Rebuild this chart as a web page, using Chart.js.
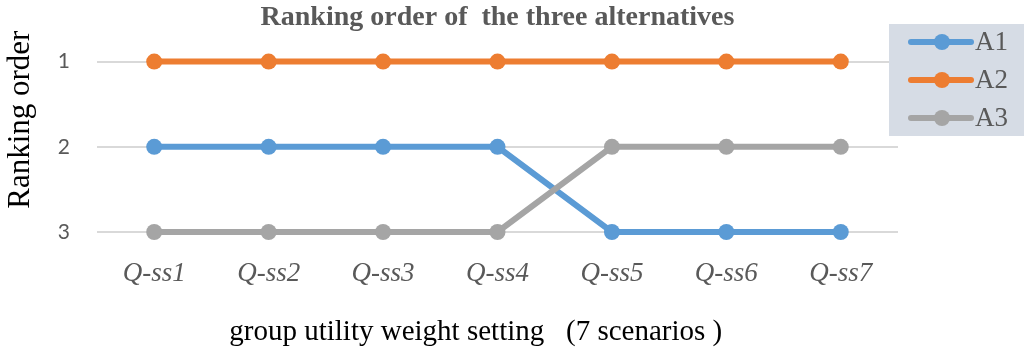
<!DOCTYPE html>
<html>
<head>
<meta charset="utf-8">
<script src="https://cdn.jsdelivr.net/npm/chart.js@4/dist/chart.umd.min.js"></script>
<style>
  html, body { margin: 0; padding: 0; background: #fff; }
  #wrap { width: 1024px; height: 354px; }
</style>
</head>
<body>
<div id="wrap"><canvas id="chart" width="1024" height="354"></canvas></div>
<script>
// data
var scenarios = ['Q-ss1', 'Q-ss2', 'Q-ss3', 'Q-ss4', 'Q-ss5', 'Q-ss6', 'Q-ss7'];
var rankA1 = [2, 2, 2, 2, 3, 3, 3];
var rankA2 = [1, 1, 1, 1, 1, 1, 1];
var rankA3 = [3, 3, 3, 3, 2, 2, 2];
var seriesNames = ['A1', 'A2', 'A3'];
var seriesColors = ['#5B9BD5', '#ED7D31', '#A5A5A5'];

var serif = '"Liberation Serif", "DejaVu Serif", serif';
var nb = '\u00a0';

function makeSet(i, values, order) {
	return {
		label: seriesNames[i],
		data: values,
		borderColor: seriesColors[i],
		backgroundColor: seriesColors[i],
		borderWidth: 6,
		pointRadius: 8,
		pointHoverRadius: 8,
		pointBorderWidth: 0,
		tension: 0,
		clip: false,
		order: order
	};
}

// legend box drawn on the right, line sample with a dot in the middle
var legendBox = {
	id: 'legendBox',
	afterDraw: function(chart) {
		var ctx = chart.ctx;
		var area = chart.chartArea;
		var x = area.right - 9, y = 24;
		ctx.save();
		ctx.fillStyle = '#D6DCE5';
		ctx.fillRect(x, y, chart.width - x, 112);
		ctx.font = '27px ' + serif;
		ctx.textBaseline = 'middle';
		for (var i = 0; i < seriesNames.length; i++) {
			var ly = y + 18 + i * 38;
			ctx.strokeStyle = seriesColors[i];
			ctx.lineWidth = 6;
			ctx.lineCap = 'round';
			ctx.beginPath();
			ctx.moveTo(x + 22, ly);
			ctx.lineTo(x + 82, ly);
			ctx.stroke();
			ctx.fillStyle = seriesColors[i];
			ctx.beginPath();
			ctx.arc(x + 53, ly, 8, 0, Math.PI * 2);
			ctx.fill();
			ctx.fillStyle = '#595959';
			ctx.fillText(seriesNames[i], x + 86, ly + 1);
		}
		ctx.restore();
	}
};

new Chart(document.getElementById('chart'), {
	type: 'line',
	data: {
		labels: scenarios,
		datasets: [makeSet(0, rankA1, 2), makeSet(1, rankA2, 1), makeSet(2, rankA3, 0)]
	},
	options: {
		responsive: false,
		animation: false,
		layout: { padding: { left: 0, right: 126, top: 0, bottom: 0 } },
		plugins: {
			legend: { display: false },
			tooltip: { enabled: false },
			title: {
				display: true,
				fullSize: false,
				text: 'Ranking order of  the three alternatives',
				color: '#595959',
				font: { family: serif, size: 28, weight: 'bold' },
				padding: { top: 1, bottom: 27 }
			}
		},
		scales: {
			x: {
				offset: true,
				grid: { display: false, drawTicks: false },
				border: { display: false },
				ticks: {
					color: '#595959',
					font: { family: serif, size: 27, style: 'italic' },
					padding: 26
				},
				title: {
					display: true,
					// trailing spaces keep the text a little left of centre, as in the original
					text: 'group utility weight setting   (7 scenarios )' + nb.repeat(6),
					color: '#000',
					font: { family: serif, size: 29 },
					padding: { top: 10, bottom: 4 }
				},
				afterFit: function(axis) { axis.height = 122; }
			},
			y: {
				reverse: true,
				min: 1,
				max: 3,
				grid: { color: '#D9D9D9', lineWidth: 2, drawTicks: false },
				border: { display: false },
				ticks: {
					stepSize: 1,
					color: '#595959',
					font: { family: '"Lato", "Liberation Sans", sans-serif', size: 21 },
					padding: 27
				},
				title: {
					display: true,
					text: nb.repeat(7) + 'Ranking order',
					color: '#000',
					font: { family: serif, size: 31 },
					padding: { top: 2, bottom: 0 }
				},
				afterFit: function(axis) { axis.width = 97; }
			}
		}
	},
	plugins: [legendBox]
});
</script>
</body>
</html>
